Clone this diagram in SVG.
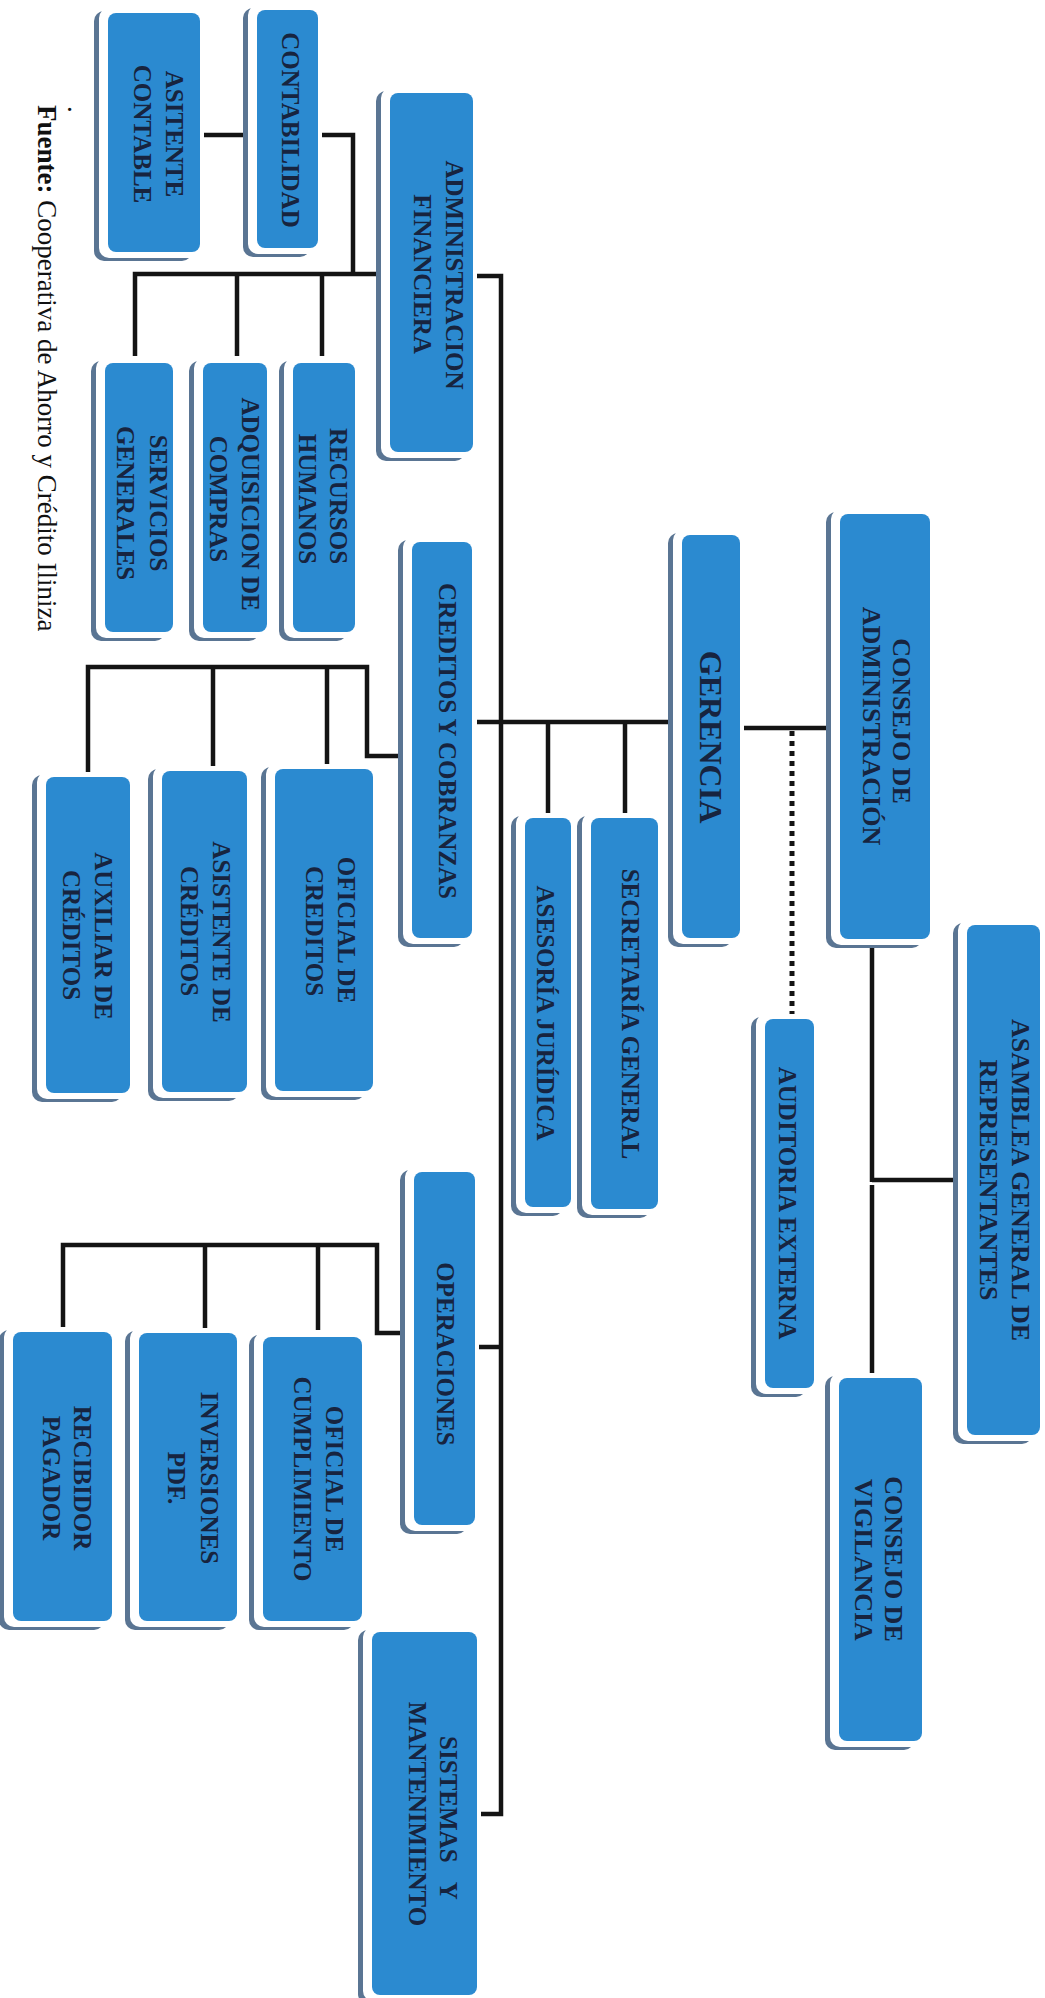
<svg xmlns="http://www.w3.org/2000/svg" width="1045" height="1998" viewBox="0 0 1045 1998">
<style>
.sh{fill:#5a7593}
.wh{fill:#ffffff}
.bx{fill:#2b8ad0}
.t{font-family:"Liberation Serif","Times New Roman",serif;font-weight:bold;font-size:25px;fill:#17243f;text-anchor:middle}
.tb{font-size:26px}
.tg{font-size:32px}
.ln{fill:none;stroke:#141414;stroke-width:4.5}
.dot{fill:none;stroke:#141414;stroke-width:5;stroke-dasharray:5 5}
.src{font-family:"Liberation Serif","Times New Roman",serif;font-size:27px;fill:#111}
</style>
<rect width="1045" height="1998" fill="#ffffff"/>
<g id="connectors">
<path class="ln" d="M200 135H257"/>
<path class="ln" d="M318 135H353V274"/>
<path class="ln" d="M135 356V274H392"/>
<path class="ln" d="M237 274V356"/>
<path class="ln" d="M322 274V356"/>
<path class="ln" d="M473 276H501V1814H477"/>
<path class="ln" d="M477 722H672"/>
<path class="ln" d="M548 722V816"/>
<path class="ln" d="M625 722V817"/>
<path class="ln" d="M740 728H836"/>
<path class="dot" d="M792 731V1016"/>
<path class="ln" d="M872 939V1182"/>
<path class="ln" d="M872 1185V1376"/>
<path class="ln" d="M872 1180H956"/>
<path class="ln" d="M405 756H367V667H88V773"/>
<path class="ln" d="M213 667V766"/>
<path class="ln" d="M327 667V766"/>
<path class="ln" d="M407 1333H377V1245H63V1328"/>
<path class="ln" d="M205 1245V1328"/>
<path class="ln" d="M318 1245V1330"/>
<path class="ln" d="M475 1347H501"/>
</g>
<g id="asitente-contable">
<rect class="sh" x="94" y="11" width="98" height="250" rx="10"/><rect class="wh" x="99" y="8" width="105" height="250" rx="10"/><rect class="bx" x="108" y="13" width="92" height="239" rx="8"/>
<text class="t" transform="translate(174,134) rotate(90)" y="8.3">ASITENTE</text>
<text class="t" transform="translate(142,134) rotate(90)" y="8.3">CONTABLE</text>
</g>
<g id="contabilidad">
<rect class="sh" x="243" y="8" width="67" height="249" rx="10"/><rect class="wh" x="248" y="5" width="74" height="249" rx="10"/><rect class="bx" x="257" y="10" width="61" height="238" rx="8"/>
<text class="t" transform="translate(290,130) rotate(90)" y="8.3">CONTABILIDAD</text>
</g>
<g id="administracion-financiera">
<rect class="sh" x="376" y="91" width="89" height="370" rx="10"/><rect class="wh" x="381" y="88" width="96" height="370" rx="10"/><rect class="bx" x="390" y="93" width="83" height="359" rx="8"/>
<text class="t" transform="translate(454,275) rotate(90)" y="8.3">ADMINISTRACION</text>
<text class="t" transform="translate(422,274) rotate(90)" y="8.3">FINANCIERA</text>
</g>
<g id="servicios-generales">
<rect class="sh" x="91" y="361" width="74" height="280" rx="10"/><rect class="wh" x="96" y="358" width="81" height="280" rx="10"/><rect class="bx" x="105" y="363" width="68" height="269" rx="8"/>
<text class="t" transform="translate(158,503) rotate(90)" y="8.3">SERVICIOS</text>
<text class="t" transform="translate(125,503) rotate(90)" y="8.3">GENERALES</text>
</g>
<g id="adquisicion-de-compras">
<rect class="sh" x="189" y="361" width="70" height="280" rx="10"/><rect class="wh" x="194" y="358" width="77" height="280" rx="10"/><rect class="bx" x="203" y="363" width="64" height="269" rx="8"/>
<text class="t" transform="translate(250,504) rotate(90)" y="8.3">ADQUISICION DE</text>
<text class="t" transform="translate(218,499) rotate(90)" y="8.3">COMPRAS</text>
</g>
<g id="recursos-humanos">
<rect class="sh" x="279" y="361" width="68" height="280" rx="10"/><rect class="wh" x="284" y="358" width="75" height="280" rx="10"/><rect class="bx" x="293" y="363" width="62" height="269" rx="8"/>
<text class="t" transform="translate(338,496) rotate(90)" y="8.3">RECURSOS</text>
<text class="t" transform="translate(307,499) rotate(90)" y="8.3">HUMANOS</text>
</g>
<g id="creditos-y-cobranzas">
<rect class="sh" x="398" y="540" width="66" height="407" rx="10"/><rect class="wh" x="403" y="537" width="73" height="407" rx="10"/><rect class="bx" x="412" y="542" width="60" height="396" rx="8"/>
<text class="t" transform="translate(447,741) rotate(90)" y="8.3">CREDITOS Y COBRANZAS</text>
</g>
<g id="gerencia">
<rect class="sh" x="668" y="533" width="64" height="414" rx="10"/><rect class="wh" x="673" y="530" width="71" height="414" rx="10"/><rect class="bx" x="682" y="535" width="58" height="403" rx="8"/>
<text class="t tg" transform="translate(711,737) rotate(90)" y="10.6">GERENCIA</text>
</g>
<g id="consejo-de-administracion">
<rect class="sh" x="826" y="512" width="96" height="436" rx="10"/><rect class="wh" x="831" y="509" width="103" height="436" rx="10"/><rect class="bx" x="840" y="514" width="90" height="425" rx="8"/>
<text class="t tb" transform="translate(902,721) rotate(90)" y="8.6">CONSEJO DE</text>
<text class="t tb" transform="translate(872,726) rotate(90)" y="8.6">ADMINISTRACIÓN</text>
</g>
<g id="asesoria-juridica">
<rect class="sh" x="511" y="816" width="52" height="400" rx="10"/><rect class="wh" x="516" y="813" width="59" height="400" rx="10"/><rect class="bx" x="525" y="818" width="46" height="389" rx="8"/>
<text class="t" transform="translate(545,1013) rotate(90)" y="8.3">ASESORÍA JURÍDICA</text>
</g>
<g id="secretaria-general">
<rect class="sh" x="577" y="816" width="73" height="402" rx="10"/><rect class="wh" x="582" y="813" width="80" height="402" rx="10"/><rect class="bx" x="591" y="818" width="67" height="391" rx="8"/>
<text class="t" transform="translate(630,1014) rotate(90)" y="8.3">SECRETARÍA GENERAL</text>
</g>
<g id="auditoria-externa">
<rect class="sh" x="751" y="1017" width="55" height="380" rx="10"/><rect class="wh" x="756" y="1014" width="62" height="380" rx="10"/><rect class="bx" x="765" y="1019" width="49" height="369" rx="8"/>
<text class="t" transform="translate(787,1203) rotate(90)" y="8.3">AUDITORIA EXTERNA</text>
</g>
<g id="asamblea-general">
<rect class="sh" x="953" y="923" width="79" height="521" rx="10"/><rect class="wh" x="958" y="920" width="86" height="521" rx="10"/><rect class="bx" x="967" y="925" width="73" height="510" rx="8"/>
<text class="t tb" transform="translate(1021,1180) rotate(90)" y="8.6">ASAMBLEA GENERAL DE</text>
<text class="t tb" transform="translate(989,1180) rotate(90)" y="8.6">REPRESENTANTES</text>
</g>
<g id="consejo-de-vigilancia">
<rect class="sh" x="825" y="1376" width="89" height="374" rx="10"/><rect class="wh" x="830" y="1373" width="96" height="374" rx="10"/><rect class="bx" x="839" y="1378" width="83" height="363" rx="8"/>
<text class="t tb" transform="translate(894,1559) rotate(90)" y="8.6">CONSEJO DE</text>
<text class="t tb" transform="translate(864,1560) rotate(90)" y="8.6">VIGILANCIA</text>
</g>
<g id="auxiliar-de-creditos">
<rect class="sh" x="32" y="775" width="90" height="327" rx="10"/><rect class="wh" x="37" y="772" width="97" height="327" rx="10"/><rect class="bx" x="46" y="777" width="84" height="316" rx="8"/>
<text class="t" transform="translate(103,936) rotate(90)" y="8.3">AUXILIAR DE</text>
<text class="t" transform="translate(71,935) rotate(90)" y="8.3">CRÉDITOS</text>
</g>
<g id="asistente-de-creditos">
<rect class="sh" x="148" y="769" width="91" height="332" rx="10"/><rect class="wh" x="153" y="766" width="98" height="332" rx="10"/><rect class="bx" x="162" y="771" width="85" height="321" rx="8"/>
<text class="t" transform="translate(221,932) rotate(90)" y="8.3">ASISTENTE DE</text>
<text class="t" transform="translate(189,931) rotate(90)" y="8.3">CRÉDITOS</text>
</g>
<g id="oficial-de-creditos">
<rect class="sh" x="261" y="767" width="104" height="333" rx="10"/><rect class="wh" x="266" y="764" width="111" height="333" rx="10"/><rect class="bx" x="275" y="769" width="98" height="322" rx="8"/>
<text class="t" transform="translate(346,930) rotate(90)" y="8.3">OFICIAL DE</text>
<text class="t" transform="translate(314,931) rotate(90)" y="8.3">CREDITOS</text>
</g>
<g id="operaciones">
<rect class="sh" x="400" y="1170" width="67" height="364" rx="10"/><rect class="wh" x="405" y="1167" width="74" height="364" rx="10"/><rect class="bx" x="414" y="1172" width="61" height="353" rx="8"/>
<text class="t" transform="translate(445,1354) rotate(90)" y="8.3">OPERACIONES</text>
</g>
<g id="oficial-de-cumplimiento">
<rect class="sh" x="249" y="1335" width="105" height="295" rx="10"/><rect class="wh" x="254" y="1332" width="112" height="295" rx="10"/><rect class="bx" x="263" y="1337" width="99" height="284" rx="8"/>
<text class="t" transform="translate(334,1479) rotate(90)" y="8.3">OFICIAL DE</text>
<text class="t" transform="translate(302,1479) rotate(90)" y="8.3">CUMPLIMIENTO</text>
</g>
<g id="inversiones-pdf">
<rect class="sh" x="125" y="1331" width="104" height="299" rx="10"/><rect class="wh" x="130" y="1328" width="111" height="299" rx="10"/><rect class="bx" x="139" y="1333" width="98" height="288" rx="8"/>
<text class="t" transform="translate(209,1478) rotate(90)" y="8.3">INVERSIONES</text>
<text class="t" transform="translate(176,1478) rotate(90)" y="8.3">PDF.</text>
</g>
<g id="recibidor-pagador">
<rect class="sh" x="-1" y="1330" width="105" height="300" rx="10"/><rect class="wh" x="4" y="1327" width="112" height="300" rx="10"/><rect class="bx" x="13" y="1332" width="99" height="289" rx="8"/>
<text class="t" transform="translate(82,1478) rotate(90)" y="8.3">RECIBIDOR</text>
<text class="t" transform="translate(51,1478) rotate(90)" y="8.3">PAGADOR</text>
</g>
<g id="sistemas-y-mantenimiento">
<rect class="sh" x="358" y="1630" width="111" height="374" rx="10"/><rect class="wh" x="363" y="1627" width="118" height="374" rx="10"/><rect class="bx" x="372" y="1632" width="105" height="363" rx="8"/>
<text class="t" transform="translate(448,1818) rotate(90)" y="8.3" style="word-spacing:14px">SISTEMAS Y</text>
<text class="t" transform="translate(417,1814) rotate(90)" y="8.3">MANTENIMIENTO</text>
</g>
<g id="fuente">
<text class="src" transform="translate(47,105) rotate(90)" y="9"><tspan font-weight="bold">Fuente:</tspan> Cooperativa de Ahorro y Crédito Iliniza</text>
<text class="src" transform="translate(68,106) rotate(90)" font-size="16">.</text>
</g>
</svg>
